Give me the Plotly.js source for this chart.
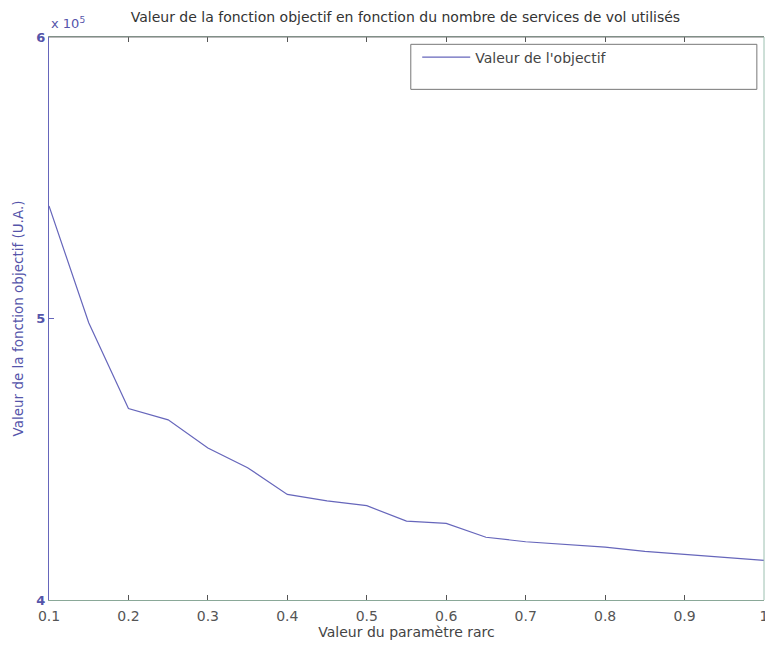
<!DOCTYPE html>
<html>
<head>
<meta charset="utf-8">
<script src="https://cdn.plot.ly/plotly-3.0.1.min.js"></script>
<style>html,body{margin:0;padding:0;background:#fff;}#chart{width:765px;height:645px;}</style>
</head>
<body>
<div id="chart"></div>
<script>
const rarc = [0.1, 0.15, 0.2, 0.25, 0.3, 0.35, 0.4, 0.45, 0.5, 0.55, 0.6, 0.65, 0.7, 0.75, 0.8, 0.85, 0.9, 0.95, 1.0];
const objectif = [540000, 498500, 468000, 464000, 454000, 447000, 437500, 435200, 433500, 428000, 427200, 422300, 420700, 419800, 418800, 417300, 416200, 415000, 414100];
const xTicks = [0.1, 0.2, 0.3, 0.4, 0.5, 0.6, 0.7, 0.8, 0.9, 1];
const xTickText = ['0.1', '0.2', '0.3', '0.4', '0.5', '0.6', '0.7', '0.8', '0.9', '1'];
const yTicks = [400000, 500000, 600000];
const yTickText = ['<b>4</b>', '<b>5</b>', '<b>6</b>'];

const lineColor = '#6666bb';
const font = 'DejaVu Sans, sans-serif';

const data = [{
  x: rarc, y: objectif, type: 'scatter', mode: 'lines',
  name: "Valeur de l'objectif",
  line: {color: lineColor, width: 1.2}
}];

const layout = {
  width: 765, height: 645,
  margin: {l: 49, r: 1, t: 37, b: 45},
  paper_bgcolor: '#fff', plot_bgcolor: '#fff',
  font: {family: font, size: 14, color: '#444'},
  title: {text: 'Valeur de la fonction objectif en fonction du nombre de services de vol utilisés',
          font: {family: font, size: 14, color: '#333'}, x: 0.53, xanchor: 'center', y: 0.974, yanchor: 'middle'},
  showlegend: true,
  legend: {x: 0.515, xanchor: 'left', y: 0.992, yanchor: 'top', bgcolor: 'rgba(0,0,0,0)', borderwidth: 0,
           font: {family: font, size: 14, color: '#444'}, itemwidth: 48},
  xaxis: {range: [0.1, 1.00001], tickvals: xTicks, ticktext: xTickText, ticks: 'inside', ticklen: 5,
          tickcolor: '#555', showgrid: false, zeroline: false, showline: true, linecolor: '#8aa898',
          mirror: 'ticks', ticklabeloverflow: 'allow', ticklabelstandoff: 3, tickfont: {family: font, size: 14, color: '#555'},
          title: {text: 'Valeur du paramètre rarc', font: {family: font, size: 14, color: '#444'}, standoff: 1}},
  yaxis: {range: [400000, 600000], tickvals: yTicks, ticktext: yTickText, ticks: 'inside', ticklen: 5,
          tickcolor: lineColor, showgrid: false, zeroline: false, showline: true, linecolor: lineColor,
          mirror: false, tickfont: {family: font, size: 13, color: '#5555aa'},
          title: {text: 'Valeur de la fonction objectif (U.A.)', font: {family: font, size: 13.5, color: '#5555aa'}, standoff: 9}},
  shapes: [
    {type: 'line', xref: 'paper', yref: 'paper', x0: 0, x1: 1, y0: 1, y1: 1, line: {color: '#777', width: 1}},
    {type: 'line', xref: 'paper', yref: 'paper', x0: 1, x1: 1, y0: 0, y1: 1, line: {color: '#9cc0b0', width: 1}},
    {type: 'rect', xref: 'paper', yref: 'paper', x0: 0.506, x1: 0.99, y0: 0.907, y1: 0.987, line: {color: '#777', width: 1}, fillcolor: 'rgba(0,0,0,0)'}
  ],
  annotations: [
    {text: 'x 10<sup>5</sup>', xref: 'paper', yref: 'paper', x: 0.0, y: 1.0, xanchor: 'left', yanchor: 'bottom', showarrow: false,
     xshift: 0, yshift: 4, font: {family: font, size: 13, color: '#5555aa'}}
  ]
};

Plotly.newPlot('chart', data, layout, {displayModeBar: false, staticPlot: true});
</script>
</body>
</html>
